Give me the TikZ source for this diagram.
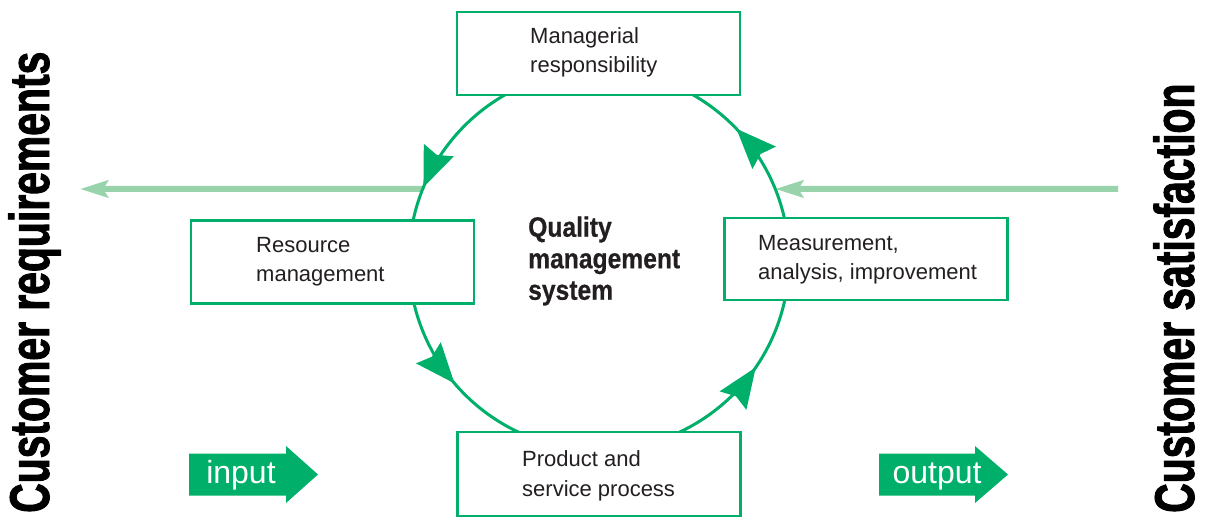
\documentclass[tikz,border=0pt]{standalone}
\usepackage{fontspec}
\setmainfont{Liberation Sans}
\newfontfamily\vcond[FakeStretch=0.73,FakeBold=1.6]{Liberation Sans Bold}
\newfontfamily\qcond[FakeStretch=0.88,FakeBold=0.6]{Liberation Sans Bold}
\usetikzlibrary{arrows.meta,decorations.markings}
\definecolor{qgreen}{RGB}{0,176,106}
\definecolor{lgreen}{RGB}{152,211,172}
\definecolor{txt}{RGB}{35,31,32}
\tikzset{
  box/.style={draw=qgreen, line width=2.2pt, fill=white, minimum width=283pt, minimum height=83pt, inner sep=0pt},
  boxtext/.style={anchor=west, align=left, text=txt, inner sep=0pt, font=\fontsize{22}{29.5}\selectfont},
  ringtip/.tip={Stealth[length=40pt,width=32pt,inset=5pt]},
  ring/.style={draw=qgreen, line width=3pt},
  lightarrow/.style={draw=lgreen, line width=6pt, -{Stealth[length=28pt,width=17pt,inset=5pt]}},
  blockarrow/.style={fill=qgreen},
  blocktext/.style={text=white, inner sep=0pt, anchor=base, font=\fontsize{32}{36}\selectfont},
  vtext/.style={rotate=90, anchor=base west, inner sep=0pt, text=black, font=\vcond\fontsize{56}{60}\selectfont}
}
\begin{document}
\begin{tikzpicture}[x=1pt,y=1pt]
\useasboundingbox (0,0) rectangle (1207,517);
\coordinate (c) at (599,257);
% light horizontal arrows
\path (c) ++(158:190) coordinate (lstart);
\coordinate (lend) at (80,328);
\path (c) ++(21.95:190) coordinate (rtip);
\coordinate (rstart) at (1118,328);
\draw[lightarrow] (lstart) -- (lend);
\draw[lightarrow] (rstart) -- (rtip);
% cycle
\draw[ring, postaction={decorate}, decoration={markings,
  mark=at position 0.1214 with {\arrow[qgreen]{ringtip}},
  mark=at position 0.4375 with {\arrow[qgreen]{ringtip}},
  mark=at position 0.6125 with {\arrow[qgreen]{ringtip}},
  mark=at position 0.9044 with {\arrow[qgreen]{ringtip}}}]
  (c) circle[radius=190pt];
% boxes
\node[box] (top) at (598.5,463.5) {};
\node[box] (left) at (332.5,255) {};
\node[box, minimum height=82pt] (right) at (866,258) {};
\node[box, minimum height=84pt] (bottom) at (599,43) {};
\node[boxtext] (toptext) at (530,464.5) {Managerial\\responsibility};
\node[boxtext] (lefttext) at (256,255.3) {Resource\\management};
\node[boxtext] (righttext) at (758,257.3) {Measurement,\\analysis, improvement};
\node[boxtext] (bottomtext) at (522,41) {Product and\\service process};
\node[anchor=west, align=left, inner sep=0pt, text=txt, font=\qcond\fontsize{28}{31.5}\selectfont] (qms) at (528,256) {Quality\\management\\system};
% input / output
\fill[blockarrow] (189,21.5) -- (286,21.5) -- (286,14) -- (318,42.5) -- (286,71) -- (286,63.5) -- (189,63.5) -- cycle;
\node[blocktext] (input) at (241,34) {input};
\fill[blockarrow] (879,21.5) -- (975,21.5) -- (975,14) -- (1008,42.5) -- (975,71) -- (975,63.5) -- (879,63.5) -- cycle;
\node[blocktext] (output) at (937,34) {output};
% vertical labels
\node[vtext] (creq) at (49,4) {Customer requirements};
\node[vtext] (csat) at (1194,4) {Customer satisfaction};
\end{tikzpicture}
\end{document}
